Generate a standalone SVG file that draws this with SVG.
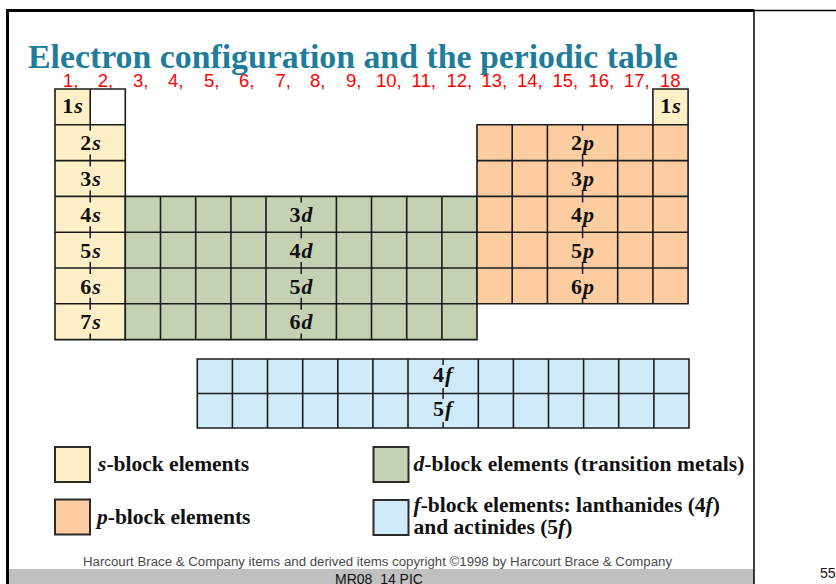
<svg xmlns="http://www.w3.org/2000/svg" width="836" height="584" viewBox="0 0 836 584">
<style>
.frame{stroke:#000;fill:none}
.title{font-family:"Liberation Serif","Times New Roman",serif;font-weight:bold;font-size:34px;fill:#1F7D9C}
.num{font-family:"Liberation Sans",Arial,sans-serif;font-size:18.5px;fill:#FF0000}
.s{fill:#FEF0C6}
.p{fill:#FDCDA1}
.d{fill:#C4D1B2}
.f{fill:#D0ECFB}
.grid{fill:none;stroke:#1c1c1c;stroke-width:1.6}
.tick{stroke:#1c1c1c;stroke-width:1.5}
.lbl{font-family:"Liberation Serif","Times New Roman",serif;font-weight:bold;font-size:22px;letter-spacing:1px;fill:#111;text-anchor:middle}
.it{font-style:italic}
.leg{font-family:"Liberation Serif","Times New Roman",serif;font-weight:bold;font-size:21.5px;fill:#111}
.lbox{stroke:#2a2a2a;stroke-width:2}
.foot{font-family:"Liberation Sans",Arial,sans-serif;font-size:12.5px;fill:#4a4a4a}
.small{font-family:"Liberation Sans",Arial,sans-serif;font-size:14px;fill:#111}
</style>
<rect width="836" height="584" fill="#fff"/>

<g id="frame">
  <rect x="9" y="569" width="745" height="15" fill="#C0C0C0"/>
  <line class="frame" x1="6" y1="10.5" x2="754" y2="10.5" stroke-width="3"/>
  <line class="frame" x1="754" y1="10.5" x2="836" y2="10.5" stroke-width="1.3"/>
  <line class="frame" x1="7.5" y1="9" x2="7.5" y2="584" stroke-width="3"/>
  <line class="frame" x1="754" y1="10" x2="754" y2="584" stroke-width="1.5"/>
</g>

<g id="title">
  <text class="title" x="28" y="68" textLength="650" lengthAdjust="spacingAndGlyphs">Electron configuration and the periodic table</text>
</g>

<g id="group-numbers">
  <text class="num" y="87"><tspan x="63">1,</tspan><tspan x="97.7">2,</tspan><tspan x="133">3,</tspan><tspan x="168">4,</tspan><tspan x="204">5,</tspan><tspan x="239">6,</tspan><tspan x="275.5">7,</tspan><tspan x="310">8,</tspan><tspan x="346">9,</tspan><tspan x="376">10,</tspan><tspan x="411.5">11,</tspan><tspan x="446.5">12,</tspan><tspan x="481.5">13,</tspan><tspan x="517">14,</tspan><tspan x="552.5">15,</tspan><tspan x="588.5">16,</tspan><tspan x="624">17,</tspan><tspan x="660">18</tspan></text>
</g>

<g id="s-block">
  <rect class="s" x="55" y="89" width="35.2" height="35.8"/>
  <rect fill="#fff" x="90.2" y="89" width="35.1" height="35.8"/>
  <rect class="s" x="55" y="124.8" width="70.3" height="214.8"/>
  <rect class="s" x="652.9" y="89" width="35.2" height="35.8"/>
  <path class="grid" d="M55,89H125.3V124.8H55ZM90.2,89V124.8M55,124.8H125.3V339.6H55ZM55,160.6H125.3M55,196.4H125.3M55,232.2H125.3M55,268H125.3M55,303.8H125.3M652.9,89H688.1V124.8H652.9Z"/>
  <path class="tick" d="M90.2,124.8v6M90.2,154.6v12M90.2,190.4v12M90.2,226.2v12M90.2,262v12M90.2,297.8v12M90.2,333.6v6"/>
  <text class="lbl" x="73" y="113">1<tspan class="it">s</tspan></text>
  <text class="lbl" x="671" y="113">1<tspan class="it">s</tspan></text>
  <text class="lbl" x="91" y="150">2<tspan class="it">s</tspan></text>
  <text class="lbl" x="91" y="186">3<tspan class="it">s</tspan></text>
  <text class="lbl" x="91" y="222">4<tspan class="it">s</tspan></text>
  <text class="lbl" x="91" y="257.5">5<tspan class="it">s</tspan></text>
  <text class="lbl" x="91" y="293.5">6<tspan class="it">s</tspan></text>
  <text class="lbl" x="91" y="329">7<tspan class="it">s</tspan></text>
</g>

<g id="d-block">
  <rect class="d" x="125.3" y="196.4" width="351.7" height="143.2"/>
  <path class="grid" d="M125.3,196.4H477V339.6H125.3ZM125.3,232.2H477M125.3,268H477M125.3,303.8H477M160.5,196.4V339.6M195.7,196.4V339.6M230.9,196.4V339.6M266,196.4V339.6M336.4,196.4V339.6M371.5,196.4V339.6M406.7,196.4V339.6M441.9,196.4V339.6"/>
  <path class="tick" d="M301.2,196.4v6M301.2,226.2v12M301.2,262v12M301.2,297.8v12M301.2,333.6v6"/>
  <text class="lbl" x="301.5" y="222">3<tspan class="it">d</tspan></text>
  <text class="lbl" x="301.5" y="257.5">4<tspan class="it">d</tspan></text>
  <text class="lbl" x="301.5" y="293.5">5<tspan class="it">d</tspan></text>
  <text class="lbl" x="301.5" y="329">6<tspan class="it">d</tspan></text>
</g>

<g id="p-block">
  <rect class="p" x="477" y="124.8" width="211.1" height="179"/>
  <path class="grid" d="M477,124.8H688.1V303.8H477ZM477,160.6H688.1M477,196.4H688.1M477,232.2H688.1M477,268H688.1M512.2,124.8V303.8M547.4,124.8V303.8M617.7,124.8V303.8M652.9,124.8V303.8"/>
  <path class="tick" d="M582.6,124.8v6M582.6,154.6v12M582.6,190.4v12M582.6,226.2v12M582.6,262v12M582.6,297.8v6"/>
  <text class="lbl" x="583" y="150">2<tspan class="it">p</tspan></text>
  <text class="lbl" x="583" y="186">3<tspan class="it">p</tspan></text>
  <text class="lbl" x="583" y="222">4<tspan class="it">p</tspan></text>
  <text class="lbl" x="583" y="257.5">5<tspan class="it">p</tspan></text>
  <text class="lbl" x="583" y="293.5">6<tspan class="it">p</tspan></text>
</g>

<g id="f-block">
  <rect class="f" x="197.3" y="359" width="491.7" height="69"/>
  <path class="grid" d="M197.3,359H689V428H197.3ZM197.3,393.5H689M232.4,359V428M267.5,359V428M302.7,359V428M337.8,359V428M372.9,359V428M408,359V428M478.3,359V428M513.4,359V428M548.5,359V428M583.6,359V428M618.7,359V428M653.9,359V428"/>
  <path class="tick" d="M443.1,359v6M443.1,388v11M443.1,422v6"/>
  <text class="lbl" x="443.1" y="382" font-size="20.5">4<tspan class="it">f</tspan></text>
  <text class="lbl" x="443.1" y="416" font-size="20.5">5<tspan class="it">f</tspan></text>
</g>

<g id="legend-s">
  <rect class="s lbox" x="55" y="447" width="35" height="35"/>
  <text class="leg" x="98" y="471"><tspan class="it">s</tspan>-block elements</text>
</g>
<g id="legend-p">
  <rect class="p lbox" x="55" y="499.5" width="35" height="35"/>
  <text class="leg" x="97" y="524"><tspan class="it">p</tspan>-block elements</text>
</g>
<g id="legend-d">
  <rect class="d lbox" x="373.5" y="447" width="35" height="35"/>
  <text class="leg" x="413.5" y="471" textLength="331" lengthAdjust="spacing"><tspan class="it">d</tspan>-block elements (transition metals)</text>
</g>
<g id="legend-f">
  <rect class="f lbox" x="373.5" y="500" width="35" height="35"/>
  <text class="leg" x="413.5" y="512"><tspan class="it">f</tspan>-block elements: lanthanides (4<tspan class="it">f</tspan>)</text>
  <text class="leg" x="413.5" y="534">and actinides (5<tspan class="it">f</tspan>)</text>
</g>

<g id="footer">
  <text class="foot" x="83" y="566" textLength="589" lengthAdjust="spacingAndGlyphs">Harcourt Brace &amp; Company items and derived items copyright ©1998 by Harcourt Brace &amp; Company</text>
  <text class="small" x="379" y="584" text-anchor="middle">MR08_14 PIC</text>
  <text class="small" x="820" y="578">55</text>
</g>
</svg>
